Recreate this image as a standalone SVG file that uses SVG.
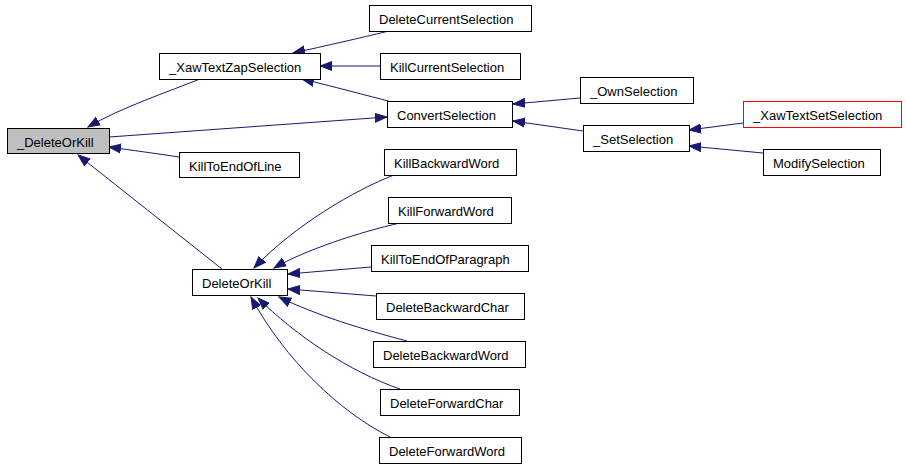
<svg xmlns="http://www.w3.org/2000/svg" width="906" height="466" viewBox="0 0 906 466">
<style>
.n rect{fill:#ffffff;stroke:#000000;stroke-width:1}
.n.root rect{fill:#bfbfbf}
.n.hl rect{stroke:#ff0000}
.n text{font-family:"Liberation Sans",Arial,sans-serif;font-size:13px;fill:#000000}
.e path{fill:none;stroke:#191970;stroke-width:1;marker-end:url(#ah)}
</style>
<defs>
<marker id="ah" markerUnits="userSpaceOnUse" markerWidth="13" markerHeight="11" refX="12" refY="5.5" orient="auto">
<path d="M0,1 L12,5.5 L0,10 z" fill="#191970" stroke="#191970" stroke-width="1"/>
</marker>
</defs>
<rect width="906" height="466" fill="#ffffff"/>
<g id="connectors" class="e">
<path d="M200,79 C170,91 120,108 88,127"/>
<path d="M389,31 C360,38 325,46 293,53"/>
<path d="M380,66 L320,66"/>
<path d="M392,102 C365,95 335,87 302,79"/>
<path d="M109,137 L387,117"/>
<path d="M179,157 C160,154 130,150 109,147"/>
<path d="M222,269 L78,155"/>
<path d="M580,98 L513,104"/>
<path d="M583,131 L513,121"/>
<path d="M743,123 L689,130"/>
<path d="M763,153 L689,146"/>
<path d="M394,175 C355,190 295,225 254,268"/>
<path d="M400,223 C360,232 305,250 274,268"/>
<path d="M371,267 L288,274"/>
<path d="M376,296 L288,289"/>
<path d="M407,341 C365,330 315,315 279,297"/>
<path d="M400,389 C350,372 295,335 258,298"/>
<path d="M390,437 C340,412 285,360 251,297"/>
</g>
<g id="n_DeleteOrKill_" class="n root"><rect x="7.5" y="128.5" width="102" height="25"/><text x="17" y="147">_DeleteOrKill</text></g>
<g id="n_XawTextZapSelection" class="n"><rect x="159.5" y="53.5" width="161" height="26"/><text x="169" y="72">_XawTextZapSelection</text></g>
<g id="n_DeleteCurrentSelection" class="n"><rect x="369.5" y="5.5" width="162" height="26"/><text x="379" y="24">DeleteCurrentSelection</text></g>
<g id="n_KillCurrentSelection" class="n"><rect x="380.5" y="53.5" width="140" height="26"/><text x="390" y="72">KillCurrentSelection</text></g>
<g id="n_ConvertSelection" class="n"><rect x="387.5" y="101.5" width="125" height="26"/><text x="397" y="120">ConvertSelection</text></g>
<g id="n_KillToEndOfLine" class="n"><rect x="179.5" y="152.5" width="120" height="25"/><text x="189" y="171">KillToEndOfLine</text></g>
<g id="n_OwnSelection" class="n"><rect x="580.5" y="77.5" width="113" height="26"/><text x="590" y="96">_OwnSelection</text></g>
<g id="n_SetSelection" class="n"><rect x="583.5" y="125.5" width="106" height="26"/><text x="593" y="144">_SetSelection</text></g>
<g id="n_XawTextSetSelection" class="n hl"><rect x="743.5" y="101.5" width="158" height="26"/><text x="753" y="120">_XawTextSetSelection</text></g>
<g id="n_ModifySelection" class="n"><rect x="763.5" y="149.5" width="117" height="26"/><text x="773" y="168">ModifySelection</text></g>
<g id="n_KillBackwardWord" class="n"><rect x="384.5" y="149.5" width="132" height="26"/><text x="394" y="168">KillBackwardWord</text></g>
<g id="n_KillForwardWord" class="n"><rect x="388.5" y="197.5" width="123" height="26"/><text x="398" y="216">KillForwardWord</text></g>
<g id="n_KillToEndOfParagraph" class="n"><rect x="371.5" y="245.5" width="157" height="26"/><text x="381" y="264">KillToEndOfParagraph</text></g>
<g id="n_DeleteOrKill" class="n"><rect x="192.5" y="269.5" width="95" height="26"/><text x="202" y="288">DeleteOrKill</text></g>
<g id="n_DeleteBackwardChar" class="n"><rect x="376.5" y="293.5" width="148" height="26"/><text x="386" y="312">DeleteBackwardChar</text></g>
<g id="n_DeleteBackwardWord" class="n"><rect x="373.5" y="341.5" width="152" height="26"/><text x="383" y="360">DeleteBackwardWord</text></g>
<g id="n_DeleteForwardChar" class="n"><rect x="380.5" y="389.5" width="139" height="26"/><text x="390" y="408">DeleteForwardChar</text></g>
<g id="n_DeleteForwardWord" class="n"><rect x="379.5" y="437.5" width="142" height="26"/><text x="389" y="456">DeleteForwardWord</text></g>
</svg>
